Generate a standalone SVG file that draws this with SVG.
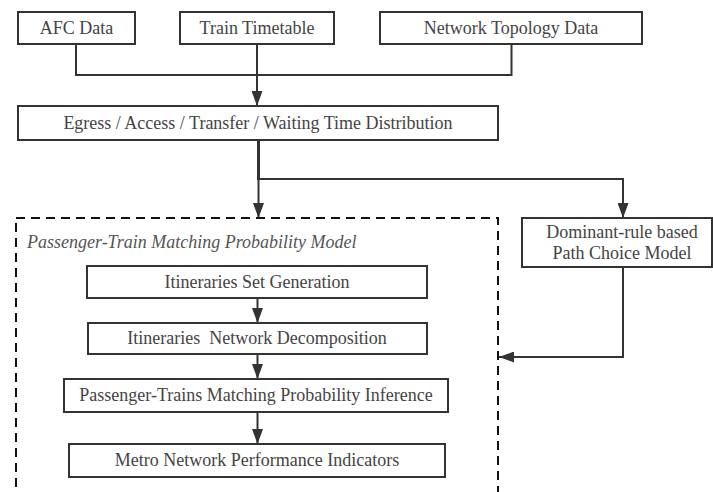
<svg xmlns="http://www.w3.org/2000/svg" width="713" height="492" viewBox="0 0 713 492">
<defs>
<marker id="ah" markerWidth="15" markerHeight="11" refX="15" refY="5.5" orient="auto" markerUnits="userSpaceOnUse" viewBox="0 0 15 11">
<path d="M0,0 L15,5.5 L0,11 Z" fill="#333"/>
</marker>
<style>
.box{fill:#fff;stroke:#333;stroke-width:2}
.t{font-family:"Liberation Serif","Times New Roman",serif;font-size:18px;fill:#444;text-anchor:middle}
.c{fill:none;stroke:#333;stroke-width:2}
</style>
</defs>
<rect width="713" height="492" fill="#fff"/>
<g id="connectors">
<polyline class="c" points="76,44 76,75 511.5,75 511.5,44"/>
<line class="c" x1="257" y1="44" x2="257" y2="106" marker-end="url(#ah)"/>
<line class="c" x1="258.5" y1="140" x2="258.5" y2="180" style="stroke-width:3"/>
<line class="c" x1="258.5" y1="178" x2="258.5" y2="218" marker-end="url(#ah)"/>
<polyline class="c" points="258.5,179 623,179 623,218" marker-end="url(#ah)"/>
<polyline class="c" points="623,267 623,357 499,357" marker-end="url(#ah)"/>
<line class="c" x1="257.5" y1="298" x2="257.5" y2="323" marker-end="url(#ah)"/>
<line class="c" x1="257.5" y1="354" x2="257.5" y2="379" marker-end="url(#ah)"/>
<line class="c" x1="257.5" y1="412" x2="257.5" y2="444" marker-end="url(#ah)"/>
</g>
<g id="afc"><rect class="box" x="18" y="12" width="117" height="32"/><text class="t" x="76.5" y="34">AFC Data</text></g>
<g id="timetable"><rect class="box" x="180" y="12" width="154" height="32"/><text class="t" x="257" y="34">Train Timetable</text></g>
<g id="topology"><rect class="box" x="380" y="12" width="262" height="32"/><text class="t" x="511" y="34">Network Topology Data</text></g>
<g id="distribution"><rect class="box" x="18" y="106" width="480" height="34"/><text class="t" x="258" y="129">Egress / Access / Transfer / Waiting Time Distribution</text></g>
<g id="matching-model">
<rect x="16" y="218" width="482" height="290" fill="none" stroke="#111" stroke-width="2" stroke-dasharray="9,6"/>
<text x="27" y="248" style="font-family:'Liberation Serif','Times New Roman',serif;font-size:18px;font-style:italic;fill:#555">Passenger-Train Matching Probability Model</text>
</g>
<g id="path-choice"><rect class="box" x="522" y="218" width="190" height="49"/><text class="t" x="622" y="238">Dominant-rule based</text><text class="t" x="622" y="259">Path Choice Model</text></g>
<g id="itin-set"><rect class="box" x="87" y="266" width="340" height="32"/><text class="t" x="257" y="288">Itineraries Set Generation</text></g>
<g id="itin-net"><rect class="box" x="88" y="323" width="339" height="31"/><text class="t" x="257" y="344" style="white-space:pre">Itineraries  Network Decomposition</text></g>
<g id="inference"><rect class="box" x="64" y="379" width="384" height="33"/><text class="t" x="256" y="401">Passenger-Trains Matching Probability Inference</text></g>
<g id="indicators"><rect class="box" x="69" y="444" width="376" height="33"/><text class="t" x="257" y="466">Metro Network Performance Indicators</text></g>
</svg>
